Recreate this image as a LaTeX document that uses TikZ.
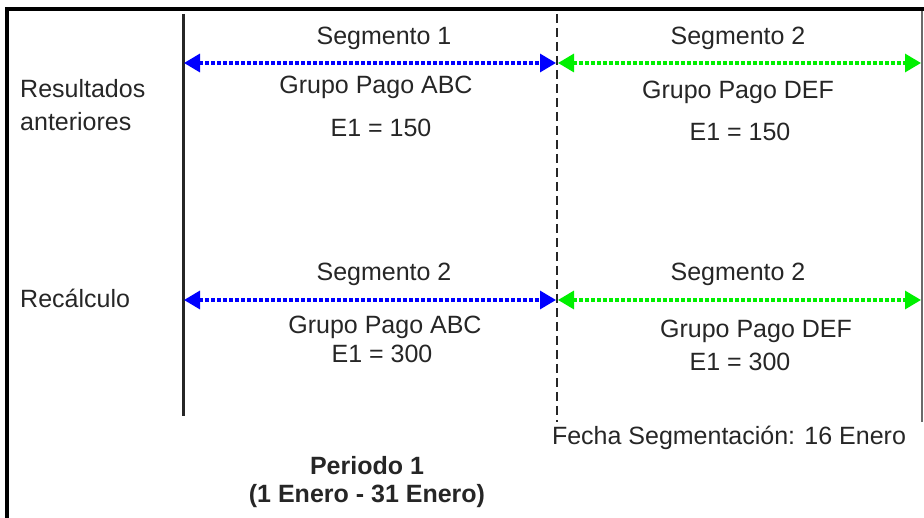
\documentclass[tikz,border=0pt]{standalone}
\usepackage{fontspec}
\setmainfont{Liberation Sans}
\usetikzlibrary{arrows.meta}
\definecolor{segblue}{HTML}{0000FF}
\definecolor{seggreen}{HTML}{00F000}
\definecolor{inktext}{HTML}{262626}
\definecolor{inkgrey}{HTML}{6A6A6A}
\tikzset{
  lbl/.style={text=inktext, inner sep=0pt, font=\fontsize{25}{33}\selectfont},
  span/.style={line width=3.2pt, dash pattern=on 4pt off 2pt,
    {Triangle[length=16pt,width=18pt]}-{Triangle[length=16pt,width=18pt]}},
}
\begin{document}
\begin{tikzpicture}[x=1pt, y=-1pt]
  \useasboundingbox (0,0) rectangle (924,518);
  % frame
  \draw[line width=4pt] (6.5,518) -- (6.5,9) -- (924,9);
  \draw[inkgrey, line width=1.6pt] (922,11) -- (922,422);
  % period start and segmentation date
  \coordinate (starttop) at (183,14);
  \coordinate (startbot) at (183,416);
  \coordinate (cuttop) at (557,14);
  \coordinate (cutbot) at (557,422);
  \draw[inktext, line width=3pt] (starttop) -- (startbot);
  \draw[inktext, line width=2.6pt, dash pattern=on 9pt off 5pt] (cuttop) -- (cutbot);
  % row labels
  \node[lbl, anchor=west, align=left] (prevlbl) at (20,105) {Resultados\\anteriores};
  \node[lbl, anchor=west] (calclbl) at (20,298) {Recálculo};
  % both rows of spans
  \foreach \y/\nm in {63/prev, 300/calc}{%
    \coordinate (\nm a) at (184,\y);
    \coordinate (\nm b) at (556,\y);
    \coordinate (\nm c) at (558,\y);
    \coordinate (\nm d) at (921,\y);
    \draw[span, segblue] (\nm a) -- (\nm b);
    \draw[span, seggreen] (\nm c) -- (\nm d);}
  % previous results
  \node[lbl] (prevsega) at (384,38) {Segmento 1};
  \node[lbl] (prevgrpa) at (376,87) {Grupo Pago ABC};
  \node[lbl] (prevvala) at (381,128) {E1 = 150};
  \node[lbl] (prevsegb) at (738,38) {Segmento 2};
  \node[lbl] (prevgrpb) at (738,92) {Grupo Pago DEF};
  \node[lbl] (prevvalb) at (740,132) {E1 = 150};
  % recalculation
  \node[lbl] (calcsega) at (384,274) {Segmento 2};
  \node[lbl] (calcgrpa) at (385,327) {Grupo Pago ABC};
  \node[lbl] (calcvala) at (382,354) {E1 = 300};
  \node[lbl] (calcsegb) at (738,274) {Segmento 2};
  \node[lbl] (calcgrpb) at (756,331) {Grupo Pago DEF};
  \node[lbl] (calcvalb) at (740,362) {E1 = 300};
  % dates
  \node[lbl] (cutdate) at (729,438) {Fecha Segmentación: 16 Enero};
  \node[lbl, align=center, font=\fontsize{25}{28}\selectfont\bfseries]
    (period) at (367,482) {Periodo 1\\(1 Enero - 31 Enero)};
\end{tikzpicture}
\end{document}
